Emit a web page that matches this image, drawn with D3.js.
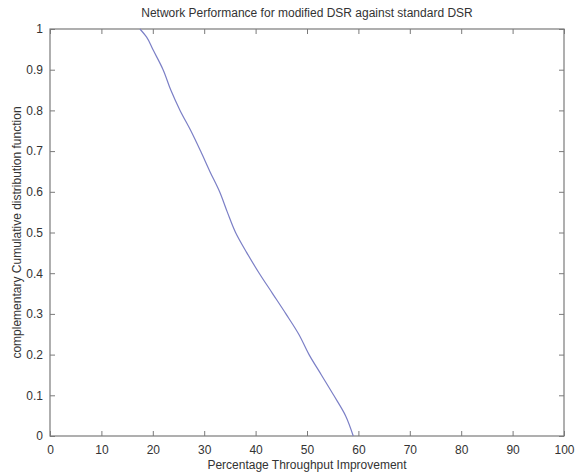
<!DOCTYPE html>
<html>
<head>
<meta charset="utf-8">
<script src="https://cdn.jsdelivr.net/npm/d3@7"></script>
<style>
  html, body { margin: 0; padding: 0; background: #fff; }
  svg { display: block; }
  text { font-family: "Liberation Sans", Arial, sans-serif; fill: #333; }
</style>
</head>
<body>
<svg id="chart" width="585" height="475"></svg>
<script>
// Complementary CDF of throughput improvement (percent)
const improvement = [17.5, 18.8, 20.0, 22.0, 23.5, 25.3, 27.4, 29.3, 31.1, 33.0, 34.5,
                     36.1, 38.3, 40.7, 43.3, 45.9, 48.4, 50.4, 52.8, 55.2, 57.5, 59.0];
const ccdf = [1.00, 0.98, 0.95, 0.90, 0.85, 0.80, 0.75, 0.70, 0.65, 0.60, 0.55,
              0.50, 0.45, 0.40, 0.35, 0.30, 0.25, 0.20, 0.15, 0.10, 0.05, 0.00];
const xTicks = [0, 10, 20, 30, 40, 50, 60, 70, 80, 90, 100];
const yTicks = [0, 0.1, 0.2, 0.3, 0.4, 0.5, 0.6, 0.7, 0.8, 0.9, 1];

const titleText = "Network Performance for modified DSR against standard DSR";
const xLabel = "Percentage Throughput Improvement";
const yLabel = "complementary Cumulative distribution function";

const plotL = 50, plotR = 564, plotT = 29, plotB = 436;
const axisColor = "#7a7a7a";

const svg = d3.select("#chart");
const x = d3.scaleLinear().domain([0, 100]).range([plotL, plotR]);
const y = d3.scaleLinear().domain([0, 1]).range([plotB, plotT]);

const fmtY = d => (d === 0 || d === 1) ? String(d) : d.toFixed(1);

function styleAxis(g, showLabels) {
  g.select(".domain").remove();
  g.selectAll(".tick line").attr("stroke", axisColor);
  g.selectAll(".tick text")
    .style("font-size", "12px")
    .attr("fill", "#333")
    .attr("opacity", showLabels ? 1 : 0);
}

// bottom axis with inward ticks
svg.append("g")
  .attr("transform", `translate(0,${plotB})`)
  .call(d3.axisBottom(x).tickValues(xTicks).tickSizeInner(-5).tickSizeOuter(0).tickPadding(9).tickFormat(d3.format("d")))
  .call(g => styleAxis(g, true));

// top axis (ticks only)
svg.append("g")
  .attr("transform", `translate(0,${plotT})`)
  .call(d3.axisTop(x).tickValues(xTicks).tickSizeInner(-5).tickSizeOuter(0).tickFormat(""))
  .call(g => styleAxis(g, false));

// left axis with inward ticks
svg.append("g")
  .attr("transform", `translate(${plotL},0)`)
  .call(d3.axisLeft(y).tickValues(yTicks).tickSizeInner(-5).tickSizeOuter(0).tickPadding(7).tickFormat(fmtY))
  .call(g => styleAxis(g, true));

// right axis (ticks only)
svg.append("g")
  .attr("transform", `translate(${plotR},0)`)
  .call(d3.axisRight(y).tickValues(yTicks).tickSizeInner(-5).tickSizeOuter(0).tickFormat(""))
  .call(g => styleAxis(g, false));

// plot box
svg.append("rect")
  .attr("x", plotL).attr("y", plotT)
  .attr("width", plotR - plotL).attr("height", plotB - plotT)
  .attr("fill", "none").attr("stroke", axisColor).attr("stroke-width", 1.2);

// the CCDF curve
const pts = improvement.map((v, i) => [v, ccdf[i]]);
svg.append("path")
  .datum(pts)
  .attr("fill", "none")
  .attr("stroke", "#7b7fc6")
  .attr("stroke-width", 1.2)
  .attr("d", d3.line().x(d => x(d[0])).y(d => y(d[1])).curve(d3.curveMonotoneY));

// title and axis labels
svg.append("text")
  .attr("x", (plotL + plotR) / 2).attr("y", 17)
  .attr("text-anchor", "middle").style("font-size", "12px")
  .text(titleText);

svg.append("text")
  .attr("x", (plotL + plotR) / 2).attr("y", 469)
  .attr("text-anchor", "middle").style("font-size", "12px")
  .text(xLabel);

svg.append("text")
  .attr("transform", `translate(21,${(plotT + plotB) / 2}) rotate(-90)`)
  .attr("text-anchor", "middle").style("font-size", "12px")
  .text(yLabel);
</script>
</body>
</html>
